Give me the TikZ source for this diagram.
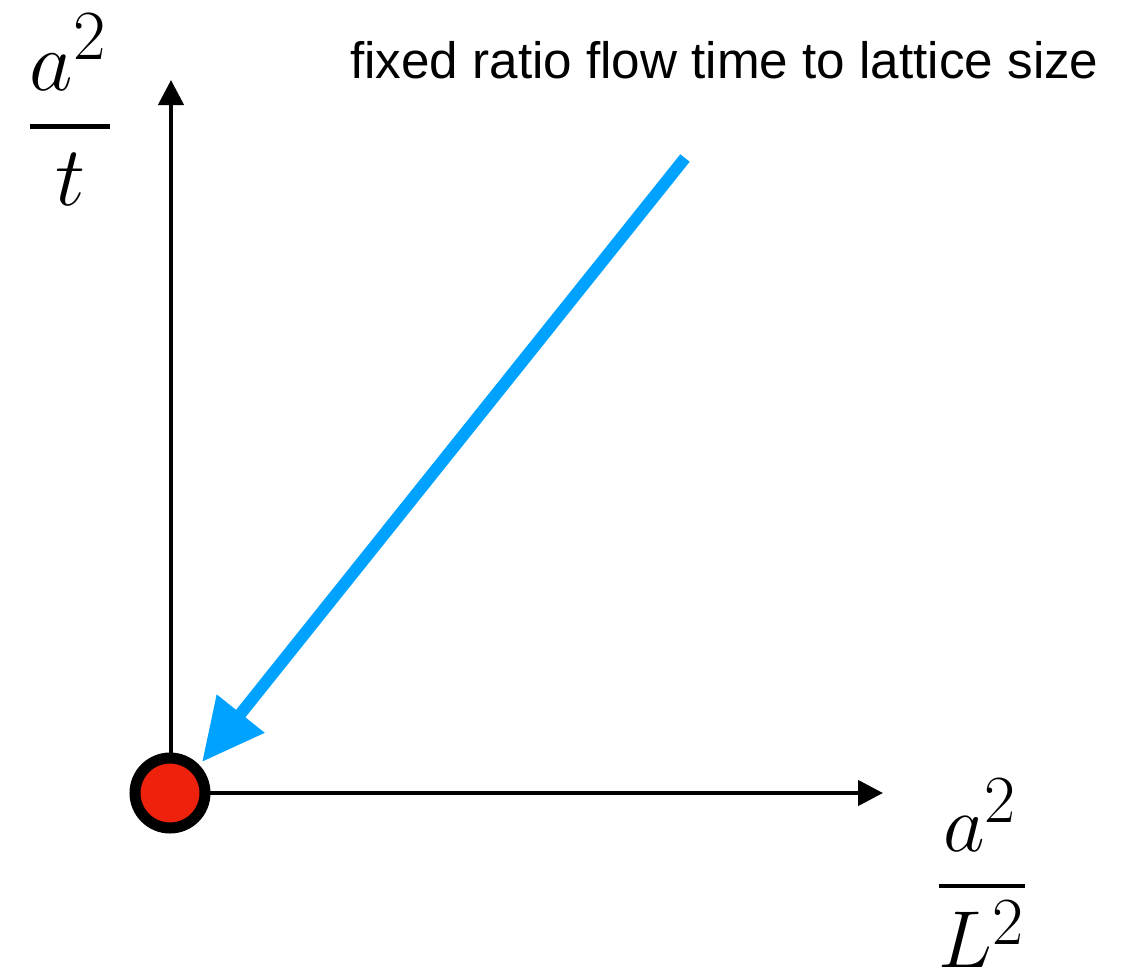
\documentclass[tikz,border=0pt]{standalone}
\usepackage{amsmath}
\usepackage{fontspec}
\newfontfamily\helv{Liberation Sans}
\usetikzlibrary{arrows.meta}
\definecolor{flowblue}{HTML}{00A2FF}
\definecolor{dotred}{HTML}{EE220C}
\tikzset{
  axis/.style={line width=4.5pt, black, -{Triangle[length=25pt,width=25pt]}},
  flowarrow/.style={line width=12pt, flowblue, -{Triangle[length=62pt,width=58pt]}},
  origindot/.style={circle, draw=black, fill=dotred, line width=11pt, minimum size=70pt, inner sep=0pt},
  bigmath/.style={inner sep=0pt, font=\Huge, transform shape},
  caption/.style={inner sep=0pt, font=\helv\fontsize{51.2}{60}\selectfont}
}
\begin{document}
\begin{tikzpicture}[x=1pt,y=-1pt]
\useasboundingbox (0,0) rectangle (1135,972);
\coordinate (O) at (171,793);
\coordinate (ytip) at (171,80);
\coordinate (xtip) at (883,793);
\coordinate (bstart) at (685,158);
\coordinate (bend) at (202,762);
\draw[axis] (O) -- (ytip);
\draw[axis] (O) -- (xtip);
\node[origindot] (dot) at (170,793) {};
\draw[flowarrow] (bstart) -- (bend);
\node[bigmath, scale=3.4] (ylab) at (70,110) {$\genfrac{}{}{1.3pt}{0}{a^2\kern1pt}{t}$};
\node[bigmath, scale=3.25] (xlab) at (982,873) {$\genfrac{}{}{1.3pt}{0}{a^2\kern1pt}{L^2}$};
\node[caption, anchor=base west] (cap) at (350,78) {fixed ratio flow time to lattice size};
\end{tikzpicture}
\end{document}
